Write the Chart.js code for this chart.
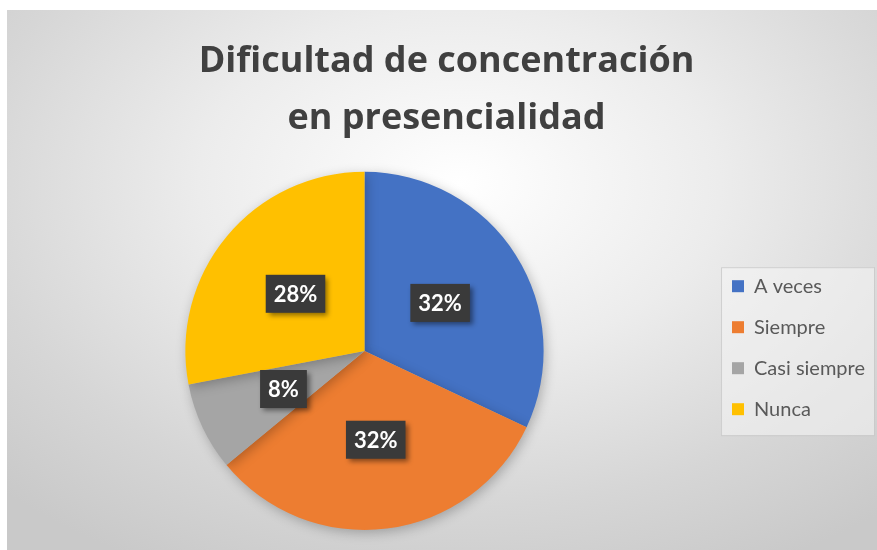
<!DOCTYPE html>
<html>
<head>
<meta charset="utf-8">
<script src="https://cdn.jsdelivr.net/npm/chart.js@4.4.0/dist/chart.umd.min.js"></script>
<style>
  html, body { margin: 0; padding: 0; background: #ffffff; }
  #wrap {
    position: absolute; left: 7px; top: 10px; width: 870px; height: 540px;
    background: radial-gradient(ellipse 75% 80% at 52% 32%, #ffffff 0%, #ececec 40%, #d6d6d6 75%, #c9c9c9 100%);
  }
  canvas { display: block; }
</style>
</head>
<body>
<div id="wrap"><canvas id="chart" width="870" height="540"></canvas></div>
<script>
// Data
const labels = ['A veces', 'Siempre', 'Casi siempre', 'Nunca'];
const values = [32, 32, 8, 28];
const colors = ['#4472c4', '#ed7d31', '#a5a5a5', '#ffc000'];
const titleLines = ['Dificultad de concentración', 'en presencialidad'];

// Dark boxed percentage labels on each slice
const sliceLabels = {
    id: 'sliceLabels',
    afterDatasetsDraw(chart) {
        const ctx = chart.ctx;
        const meta = chart.getDatasetMeta(0);
        const total = values.reduce((a, b) => a + b, 0);
        ctx.save();
        ctx.font = 'bold 22px Lato';
        ctx.textAlign = 'center';
        ctx.textBaseline = 'middle';
        meta.data.forEach((arc, i) => {
            const mid = (arc.startAngle + arc.endAngle) / 2;
            const r = arc.outerRadius * 0.5;
            const x = arc.x + Math.cos(mid) * r;
            const y = arc.y + Math.sin(mid) * r;
            const text = Math.round(values[i] / total * 100) + '%';
            const w = ctx.measureText(text).width + 16;
            const h = 38;
            ctx.shadowColor = 'rgba(0,0,0,0.45)';
            ctx.shadowBlur = 5;
            ctx.shadowOffsetX = 3;
            ctx.shadowOffsetY = 3;
            ctx.fillStyle = '#3a3a3a';
            ctx.fillRect(x - w / 2, y - h / 2, w, h);
            ctx.shadowColor = 'transparent';
            ctx.fillStyle = '#ffffff';
            ctx.fillText(text, x, y + 1);
        });
        ctx.restore();
    }
};

// Pie shadow and legend frame
const extras = {
    id: 'extras',
    beforeDatasetsDraw(chart) {
        const ctx = chart.ctx;
        ctx.save();
        ctx.shadowColor = 'rgba(0,0,0,0.25)';
        ctx.shadowBlur = 12;
        ctx.shadowOffsetX = 2;
        ctx.shadowOffsetY = 3;
    },
    afterDatasetsDraw(chart) {
        chart.ctx.restore();
    },
    beforeDraw(chart) {
        const lg = chart.legend;
        if (!lg || !lg.legendHitBoxes.length) return;
        const boxes = lg.legendHitBoxes;
        const x0 = boxes[0].left - 11;
        const y0 = boxes[0].top - 9;
        const last = boxes[boxes.length - 1];
        const x1 = Math.max(...boxes.map(b => b.left + b.width)) + 9;
        const y1 = last.top + last.height + 16;
        const ctx = chart.ctx;
        ctx.save();
        ctx.fillStyle = 'rgba(245,245,245,0.55)';
        ctx.fillRect(x0, y0, x1 - x0, y1 - y0);
        ctx.strokeStyle = 'rgba(200,200,200,0.8)';
        ctx.lineWidth = 1;
        ctx.strokeRect(x0 + 0.5, y0 + 0.5, x1 - x0, y1 - y0);
        ctx.restore();
    }
};

new Chart(document.getElementById('chart'), {
    type: 'pie',
    data: {
        labels: labels,
        datasets: [{
            data: values,
            backgroundColor: colors,
            borderWidth: 0
        }]
    },
    options: {
        responsive: false,
        animation: false,
        layout: { padding: { left: 11, right: 2, top: 0, bottom: 20 } },
        plugins: {
            title: {
                display: true,
                text: titleLines,
                color: '#404040',
                font: { family: 'Open Sans', size: 36, weight: 'bold', lineHeight: 1.58 },
                padding: { top: 23, bottom: 25 }
            },
            legend: {
                position: 'right',
                align: 'start',
                title: {
                    display: true,
                    text: '',
                    font: { size: 1 },
                    padding: { top: 244, bottom: 0 }
                },
                labels: {
                    color: '#595959',
                    font: { family: 'Lato', size: 20 },
                    boxWidth: 12,
                    boxHeight: 12,
                    padding: 21
                }
            },
            tooltip: { enabled: false }
        }
    },
    plugins: [extras, sliceLabels]
});
</script>
</body>
</html>
